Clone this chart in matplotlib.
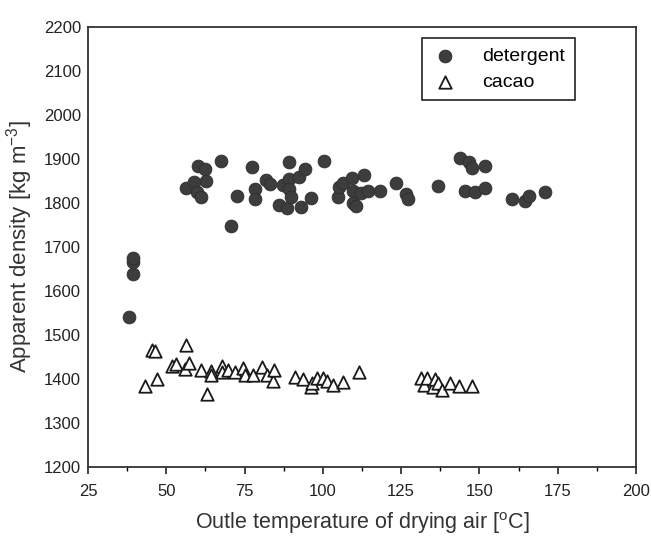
import numpy as np
from matplotlib import pyplot as plt

plt.rcParams['font.family'] = ['Liberation Sans', 'DejaVu Sans']
plt.rcParams['mathtext.fontset'] = 'custom'
plt.rcParams['mathtext.rm'] = 'Liberation Sans'

# detergent: outlet temperature [C], apparent density [kg m-3]
det_t = [38.2, 39.5, 39.5, 39.5,
         56.3, 58.9, 59.9, 60.2, 61.2, 62.5, 62.8, 67.6, 70.8, 72.7,
         77.3, 78.3, 78.3, 81.8, 83.1, 86.0, 87.3, 88.6, 89.3, 89.3,
         89.3, 89.9, 92.5, 93.1, 94.4, 96.3, 100.5, 104.7, 105.0, 106.3,
         109.2, 109.5, 109.5, 110.5, 112.1, 113.1, 114.4, 118.3, 123.5,
         126.4, 127.3, 136.7, 143.8, 145.3, 146.6, 147.6, 148.5, 151.8,
         151.8, 160.5, 164.4, 165.7, 170.8]
det_rho = [1541, 1638, 1665, 1675,
           1834, 1848, 1825, 1884, 1814, 1877, 1850, 1895, 1747, 1816,
           1882, 1832, 1809, 1852, 1843, 1796, 1841, 1789, 1893, 1855,
           1832, 1814, 1859, 1791, 1877, 1812, 1895, 1814, 1837, 1845,
           1857, 1828, 1800, 1794, 1823, 1864, 1828, 1828, 1846,
           1821, 1809, 1839, 1902, 1828, 1893, 1880, 1825, 1884,
           1834, 1809, 1805, 1816, 1825]

# cacao
cac_t = [43.1, 45.3, 46.3, 47.0, 51.8, 53.1, 56.0, 56.3, 57.3, 61.1,
         63.1, 64.4, 64.4, 67.9, 67.9, 69.8, 71.8, 74.4, 75.0, 77.6,
         80.5, 82.1, 84.1, 84.4, 91.2, 93.5, 96.3, 96.6, 98.2, 100.2,
         101.2, 103.1, 106.4, 111.5, 131.2, 132.4, 133.4, 135.3, 135.7,
         136.7, 138.0, 140.6, 143.5, 147.7]
cac_rho = [1385, 1466, 1464, 1399, 1430, 1435, 1423, 1478, 1437, 1421,
           1365, 1419, 1408, 1430, 1417, 1421, 1417, 1426, 1410, 1410,
           1428, 1408, 1396, 1421, 1405, 1399, 1381, 1392, 1403, 1403,
           1396, 1387, 1394, 1417, 1403, 1387, 1403, 1381, 1399,
           1392, 1374, 1392, 1383, 1385]

fig = plt.figure(figsize=(6.51, 5.4), dpi=100)
ax = fig.add_axes([88 / 651, 1 - 467 / 540, (636 - 88) / 651, (467 - 27) / 540])

ax.scatter(det_t, det_rho, s=85, c='#3d3d3d', edgecolors='#2e2e2e',
           linewidths=0.6, label='detergent', zorder=3)
ax.scatter(cac_t, cac_rho, s=80, marker='^', facecolors='white',
           edgecolors='#1a1a1a', linewidths=1.3, label='cacao', zorder=2)

ax.set_xlim(25, 200)
ax.set_ylim(1200, 2200)
ax.set_xticks(np.arange(25, 201, 25))
ax.set_xticks(np.arange(37.5, 200, 25), minor=True)
ax.set_yticks(np.arange(1200, 2201, 100))
ax.tick_params(axis='x', which='major', length=5, width=1.2, direction='out',
               labelsize=12, colors='#222222', pad=7)
ax.tick_params(axis='x', which='minor', length=3, width=1.0, direction='out')
ax.tick_params(axis='y', length=0, labelsize=12, colors='#222222', pad=5)
for sp in ax.spines.values():
    sp.set_linewidth(1.3)
    sp.set_color('#333333')

ax.set_xlabel('Outle temperature of drying air [$^{\\mathrm{o}}$C]',
              fontsize=15.5, color='#333333', labelpad=8)
ax.set_ylabel('Apparent density [kg m$^{\\mathrm{-3}}$]',
              fontsize=16, color='#333333', labelpad=6)

leg = ax.legend(loc='upper right', bbox_to_anchor=(0.889, 0.975),
                borderaxespad=0, fontsize=14, frameon=True, fancybox=False,
                framealpha=1, edgecolor='#222222', borderpad=0.5,
                handletextpad=1.3, labelspacing=0.4, handlelength=1.3)
leg.get_frame().set_linewidth(1.2)

fig.savefig('out.png', dpi=100)
